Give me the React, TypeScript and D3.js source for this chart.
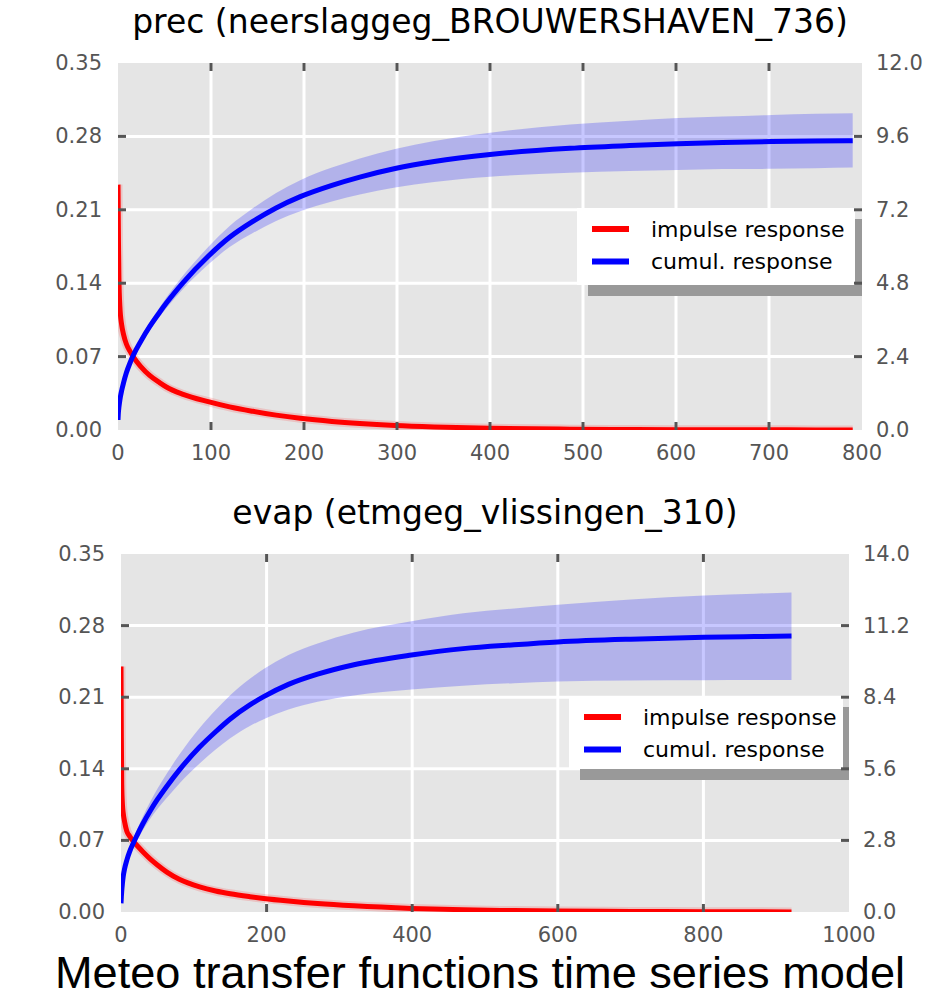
import React, { useEffect, useRef } from "react";
import * as d3 from "d3";

// prec (neerslaggeg_BROUWERSHAVEN_736) — time in days
const precTime = [0, 0.5, 1, 2, 4, 6, 9, 13, 17, 25, 34, 45, 52, 70, 97, 120, 145, 170, 196, 230, 260, 298, 340, 400, 486, 550, 602, 650, 703, 750, 790];
const precImpulse = [0.234, 0.18, 0.145, 0.118, 0.1, 0.091, 0.082, 0.075, 0.069, 0.06, 0.052, 0.045, 0.041, 0.034, 0.027, 0.022, 0.0178, 0.0142, 0.0112, 0.0082, 0.0062, 0.0043, 0.0029, 0.0016, 0.0008, 0.0005, 0.0003, 0.0002, 0.00015, 0.0001, 0.0001];
const precCumul = [0.33, 0.6, 0.75, 0.98, 1.3, 1.55, 1.87, 2.2, 2.48, 2.93, 3.38, 3.86, 4.15, 4.82, 5.68, 6.3, 6.82, 7.26, 7.63, 8.0, 8.27, 8.55, 8.78, 9.01, 9.21, 9.3, 9.36, 9.4, 9.43, 9.45, 9.46];
const precUpper = [0.35, 0.62, 0.78, 1.02, 1.35, 1.61, 1.94, 2.28, 2.57, 3.04, 3.51, 4.02, 4.33, 5.05, 5.98, 6.67, 7.25, 7.75, 8.17, 8.58, 8.88, 9.19, 9.45, 9.72, 9.99, 10.11, 10.2, 10.25, 10.3, 10.34, 10.36];
const precLower = [0.31, 0.58, 0.72, 0.94, 1.25, 1.49, 1.8, 2.12, 2.39, 2.82, 3.25, 3.71, 3.98, 4.61, 5.41, 5.98, 6.44, 6.83, 7.15, 7.47, 7.7, 7.93, 8.11, 8.28, 8.41, 8.47, 8.5, 8.53, 8.54, 8.56, 8.58];

// evap (etmgeg_vlissingen_310)
const evapTime = [0, 0.5, 1, 2, 3, 5, 8, 12, 17, 22, 30, 40, 50, 63, 80, 108, 130, 150, 177, 196, 230, 270, 320, 399, 470, 540, 600, 700, 801, 870, 921];
const evapImpulse = [0.24, 0.17, 0.125, 0.105, 0.097, 0.088, 0.079, 0.074, 0.069, 0.065, 0.059, 0.052, 0.046, 0.039, 0.032, 0.0245, 0.0205, 0.0178, 0.015, 0.0133, 0.0108, 0.0083, 0.006, 0.0035, 0.0022, 0.0014, 0.0009, 0.0005, 0.0003, 0.0002, 0.0001];
const evapCumul = [0.34, 0.6, 0.82, 1.13, 1.38, 1.7, 2.03, 2.37, 2.7, 3.0, 3.45, 3.95, 4.4, 4.92, 5.55, 6.45, 7.05, 7.55, 8.1, 8.42, 8.9, 9.3, 9.67, 10.05, 10.3, 10.45, 10.56, 10.67, 10.74, 10.77, 10.79];
const evapUpper = [0.35, 0.62, 0.85, 1.18, 1.44, 1.78, 2.14, 2.51, 2.88, 3.22, 3.73, 4.3, 4.82, 5.42, 6.15, 7.2, 7.9, 8.48, 9.12, 9.5, 10.05, 10.5, 10.93, 11.37, 11.68, 11.87, 12.02, 12.22, 12.38, 12.45, 12.49];
const evapLower = [0.33, 0.58, 0.79, 1.08, 1.32, 1.62, 1.93, 2.24, 2.54, 2.8, 3.2, 3.64, 4.03, 4.47, 5.02, 5.81, 6.35, 6.79, 7.27, 7.54, 7.92, 8.22, 8.47, 8.7, 8.85, 8.95, 9.01, 9.05, 9.06, 9.07, 9.07];

// axes
const leftTicks = [0, 0.07, 0.14, 0.21, 0.28, 0.35];
const precRightTicks = [0, 2.4, 4.8, 7.2, 9.6, 12];
const evapRightTicks = [0, 2.8, 5.6, 8.4, 11.2, 14];
const precXTicks = [0, 100, 200, 300, 400, 500, 600, 700, 800];
const evapXTicks = [0, 200, 400, 600, 800, 1000];
const legendLabels = ["impulse response", "cumul. response"];
const titles = ["prec (neerslaggeg_BROUWERSHAVEN_736)", "evap (etmgeg_vlissingen_310)"];
const caption = "Meteo transfer functions time series model";

const FONT = "DejaVu Sans, sans-serif";

function drawPanel(svg, p) {
  const { box, time, impulse, cumul, upper, lower, xTicks, rightTicks, legend, title, id } = p;
  const x = d3.scaleLinear().domain([0, xTicks[xTicks.length - 1]]).range([box.left, box.right]);
  const yL = d3.scaleLinear().domain([0, 0.35]).range([box.bottom, box.top]);
  const yR = d3.scaleLinear().domain([0, rightTicks[rightTicks.length - 1]]).range([box.bottom, box.top]);
  const w = box.right - box.left;
  const h = box.bottom - box.top;

  svg.append("clipPath").attr("id", id).append("rect")
    .attr("x", box.left).attr("y", box.top).attr("width", w).attr("height", h);

  svg.append("rect").attr("x", box.left).attr("y", box.top).attr("width", w).attr("height", h).attr("fill", "#e5e5e5");

  const grid = svg.append("g").attr("stroke", "white").attr("stroke-width", 3);
  xTicks.slice(1, -1).forEach(t => {
    grid.append("line").attr("x1", x(t)).attr("x2", x(t)).attr("y1", box.top).attr("y2", box.bottom);
  });
  leftTicks.slice(1, -1).forEach(t => {
    grid.append("line").attr("x1", box.left).attr("x2", box.right).attr("y1", yL(t)).attr("y2", yL(t));
  });

  const plot = svg.append("g").attr("clip-path", `url(#${id})`);

  // faint pale strip to the left of the legend
  plot.append("rect")
    .attr("x", box.left).attr("y", legend.y + 2)
    .attr("width", legend.x - box.left).attr("height", legend.h - 4)
    .attr("fill", "white").attr("opacity", 0.2);

  const idx = d3.range(time.length);
  const band = d3.area()
    .x(i => x(time[i]))
    .y0(i => yR(lower[i]))
    .y1(i => yR(upper[i]))
    .curve(d3.curveMonotoneX);
  plot.append("path").attr("d", band(idx)).attr("fill", "blue").attr("opacity", 0.22);

  const impLine = d3.line().x(i => x(time[i])).y(i => yL(impulse[i])).curve(d3.curveMonotoneX);
  plot.append("path").attr("d", impLine(idx)).attr("fill", "none")
    .attr("stroke", "red").attr("stroke-opacity", 0.15).attr("stroke-width", 9);
  plot.append("path").attr("d", impLine(idx)).attr("fill", "none")
    .attr("stroke", "red").attr("stroke-width", 5).attr("stroke-linejoin", "round");

  const cumLine = d3.line().x(i => x(time[i])).y(i => yR(cumul[i])).curve(d3.curveMonotoneX);
  plot.append("path").attr("d", cumLine(idx)).attr("fill", "none")
    .attr("stroke", "blue").attr("stroke-width", 5).attr("stroke-linejoin", "round");

  // legend with shadow
  plot.append("rect").attr("x", legend.x + 11).attr("y", legend.y + 11)
    .attr("width", legend.w).attr("height", legend.h).attr("fill", "#999");
  svg.append("rect").attr("x", legend.x).attr("y", legend.y)
    .attr("width", legend.w).attr("height", legend.h).attr("fill", "white");
  const colors = ["red", "blue"];
  legendLabels.forEach((lab, i) => {
    const ly = legend.y + 21 + i * 32.5;
    svg.append("line").attr("x1", legend.x + 15).attr("x2", legend.x + 52)
      .attr("y1", ly).attr("y2", ly).attr("stroke", colors[i]).attr("stroke-width", 6);
    svg.append("text").attr("x", legend.x + 74).attr("y", ly)
      .attr("dominant-baseline", "central").attr("font-family", FONT).attr("font-size", 22)
      .attr("fill", "black").text(lab);
  });

  // ticks (inward)
  const ticks = svg.append("g").attr("stroke", "#555").attr("stroke-width", 3);
  xTicks.slice(1, -1).forEach(t => {
    ticks.append("line").attr("x1", x(t)).attr("x2", x(t)).attr("y1", box.top).attr("y2", box.top + 8);
    ticks.append("line").attr("x1", x(t)).attr("x2", x(t)).attr("y1", box.bottom).attr("y2", box.bottom - 8);
  });
  leftTicks.slice(1, -1).forEach(t => {
    ticks.append("line").attr("x1", box.left).attr("x2", box.left + 8).attr("y1", yL(t)).attr("y2", yL(t));
  });
  rightTicks.slice(1, -1).forEach(t => {
    ticks.append("line").attr("x1", box.right).attr("x2", box.right - 8).attr("y1", yR(t)).attr("y2", yR(t));
  });

  const labels = svg.append("g").attr("font-family", FONT).attr("font-size", 21).attr("fill", "#555");
  leftTicks.forEach(t => {
    labels.append("text").attr("x", box.left - 16).attr("y", yL(t)).attr("text-anchor", "end")
      .attr("dominant-baseline", "central").text(d3.format(".2f")(t));
  });
  rightTicks.forEach(t => {
    labels.append("text").attr("x", box.right + 14).attr("y", yR(t))
      .attr("dominant-baseline", "central").text(d3.format(".1f")(t));
  });
  xTicks.forEach(t => {
    labels.append("text").attr("x", x(t)).attr("y", box.bottom + 23).attr("text-anchor", "middle")
      .attr("dominant-baseline", "central").text(String(t));
  });

  svg.append("text").attr("x", (box.left + box.right) / 2).attr("y", box.top - 30)
    .attr("text-anchor", "middle").attr("font-family", FONT).attr("font-size", 33)
    .attr("fill", "black").text(title);
}

export default function App() {
  const ref = useRef(null);

  useEffect(() => {
    const svg = d3.select(ref.current);
    svg.selectAll("*").remove();

    drawPanel(svg, {
      id: "clipPrec",
      box: { left: 118, right: 862, top: 63, bottom: 430 },
      time: precTime, impulse: precImpulse, cumul: precCumul, upper: precUpper, lower: precLower,
      xTicks: precXTicks, rightTicks: precRightTicks,
      legend: { x: 577, y: 208, w: 278, h: 77 },
      title: titles[0],
    });
    drawPanel(svg, {
      id: "clipEvap",
      box: { left: 121, right: 849, top: 554, bottom: 912 },
      time: evapTime, impulse: evapImpulse, cumul: evapCumul, upper: evapUpper, lower: evapLower,
      xTicks: evapXTicks, rightTicks: evapRightTicks,
      legend: { x: 569, y: 696, w: 274, h: 73 },
      title: titles[1],
    });

    svg.append("text").attr("x", 480).attr("y", 988).attr("text-anchor", "middle")
      .attr("font-family", "Liberation Sans Narrow, Liberation Sans, sans-serif").attr("font-size", 45)
      .attr("textLength", 850).attr("lengthAdjust", "spacingAndGlyphs")
      .attr("fill", "black").text(caption);
  }, []);

  return (
    <svg ref={ref} width={939} height={999}
      style={{ position: "absolute", left: 0, top: 0, background: "white" }} />
  );
}
